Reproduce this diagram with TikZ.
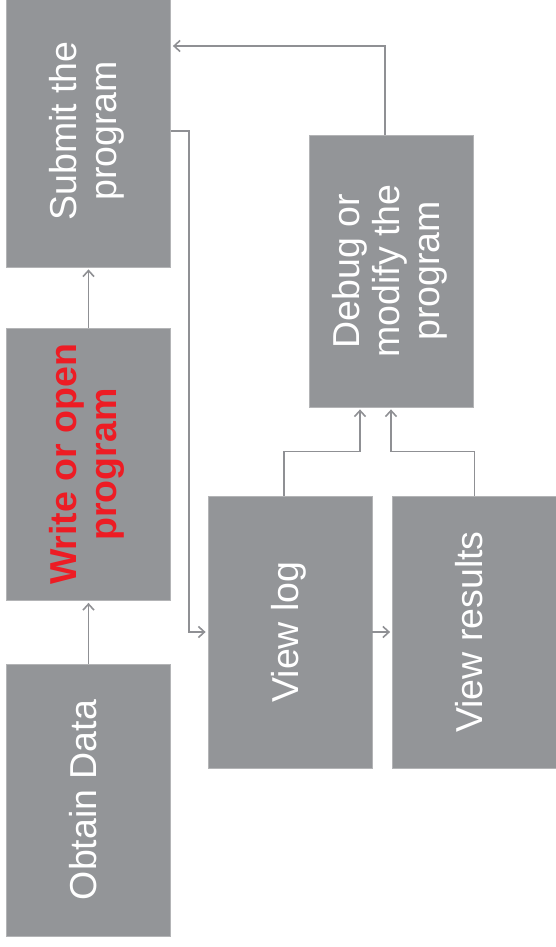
\documentclass[tikz,border=0pt]{standalone}
\usepackage{fontspec}
\setmainfont{Liberation Sans}
\usepackage{graphicx}
\usetikzlibrary{arrows.meta}
\definecolor{boxgray}{HTML}{939598}
\definecolor{edgegray}{HTML}{B3B4B6}
\definecolor{linegray}{HTML}{8F9094}
\definecolor{redtxt}{HTML}{ED1C24}
\newcommand{\vtext}[1]{\rotatebox{90}{\begin{tabular}{@{}c@{}}#1\end{tabular}}}
\begin{document}
\begin{tikzpicture}[x=1pt,y=-1pt,
  stepbox/.style={draw=edgegray, line width=0.8pt, fill=boxgray,
    minimum width=164pt, minimum height=272pt, inner sep=0pt,
    text=white, font=\fontsize{37.5}{40}\selectfont},
  conn/.style={draw=linegray, line width=1.6pt,
    -{Straight Barb[length=6pt,width=11pt]}, shorten >=2pt}]
\useasboundingbox (0,0) rectangle (556,947);
\node[stepbox] (obtain) at (88.5,800) {\vtext{Obtain Data}};
\node[stepbox, text=redtxt, font=\fontsize{37.5}{40}\selectfont\bfseries] (write) at (88.5,464.5) {\vtext{Write or open\\program}};
\node[stepbox] (submit) at (88.5,131) {\vtext{Submit the\\program}};
\node[stepbox] (debug) at (391,271) {\vtext{Debug or\\modify the\\program}};
\node[stepbox] (viewlog) at (290,632) {\vtext{View log}};
\node[stepbox] (viewres) at (474.5,632) {\vtext{View results}};
\draw[conn] (obtain.north) -- (write.south);
\draw[conn] (write.north) -- (submit.south);
\draw[conn] (submit.east) -- ++(18,0) |- (viewlog.west);
\draw[conn] (viewlog.east) -- (viewres.west);
\draw[conn] ([xshift=-6pt]viewlog.north) -- ++(0,-44) -| ([xshift=-31pt]debug.south);
\draw[conn] (viewres.north) -- ++(0,-44) -| (debug.south);
\draw[conn] ([xshift=-6pt]debug.north) |- ([yshift=85pt]submit.east);
\end{tikzpicture}
\end{document}
